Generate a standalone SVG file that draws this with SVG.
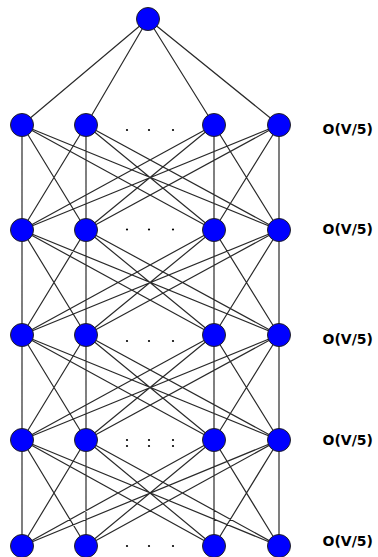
<svg xmlns="http://www.w3.org/2000/svg" width="378" height="557" viewBox="0 0 378 557">
<style>
.e{stroke:#2a2a2a;stroke-width:1.2;fill:none}
.n{fill:#0000ff;stroke:#222;stroke-width:1}
.d{fill:#000}
.l{font-family:"DejaVu Sans",sans-serif;font-weight:bold;font-size:14px;fill:#000}
</style>
<defs><circle id="c" r="11.5"/></defs>
<g id="connectors" class="e">
<path d="M148,19L22,125M148,19L86,125M148,19L214,125M148,19L279,125"/>
<path d="M22,125L22,230M22,125L86,230M22,125L214,230M22,125L279,230M86,125L22,230M86,125L86,230M86,125L214,230M86,125L279,230M214,125L22,230M214,125L86,230M214,125L214,230M214,125L279,230M279,125L22,230M279,125L86,230M279,125L214,230M279,125L279,230"/>
<path d="M22,230L22,335M22,230L86,335M22,230L214,335M22,230L279,335M86,230L22,335M86,230L86,335M86,230L214,335M86,230L279,335M214,230L22,335M214,230L86,335M214,230L214,335M214,230L279,335M279,230L22,335M279,230L86,335M279,230L214,335M279,230L279,335"/>
<path d="M22,335L22,440M22,335L86,440M22,335L214,440M22,335L279,440M86,335L22,440M86,335L86,440M86,335L214,440M86,335L279,440M214,335L22,440M214,335L86,440M214,335L214,440M214,335L279,440M279,335L22,440M279,335L86,440M279,335L214,440M279,335L279,440"/>
<path d="M22,440L22,546M22,440L86,546M22,440L214,546M22,440L279,546M86,440L22,546M86,440L86,546M86,440L214,546M86,440L279,546M214,440L22,546M214,440L86,546M214,440L214,546M214,440L279,546M279,440L22,546M279,440L86,546M279,440L214,546M279,440L279,546"/>
</g>
<g id="top" class="n"><use href="#c" x="148" y="19"/></g>
<g id="row1" class="n"><use href="#c" x="22" y="125"/><use href="#c" x="86" y="125"/><use href="#c" x="214" y="125"/><use href="#c" x="279" y="125"/></g>
<g id="row2" class="n"><use href="#c" x="22" y="230"/><use href="#c" x="86" y="230"/><use href="#c" x="214" y="230"/><use href="#c" x="279" y="230"/></g>
<g id="row3" class="n"><use href="#c" x="22" y="335"/><use href="#c" x="86" y="335"/><use href="#c" x="214" y="335"/><use href="#c" x="279" y="335"/></g>
<g id="row4" class="n"><use href="#c" x="22" y="440"/><use href="#c" x="86" y="440"/><use href="#c" x="214" y="440"/><use href="#c" x="279" y="440"/></g>
<g id="row5" class="n"><use href="#c" x="22" y="546"/><use href="#c" x="86" y="546"/><use href="#c" x="214" y="546"/><use href="#c" x="279" y="546"/></g>
<g id="dots" class="d">
<circle cx="127" cy="130" r="1.1"/><circle cx="149" cy="130" r="1.1"/><circle cx="173" cy="130" r="1.1"/>
<circle cx="127" cy="229.5" r="1.1"/><circle cx="149" cy="229.5" r="1.1"/><circle cx="173" cy="229.5" r="1.1"/>
<circle cx="127" cy="341" r="1.1"/><circle cx="149" cy="341" r="1.1"/><circle cx="173" cy="341" r="1.1"/>
<circle cx="127" cy="440" r="1.1"/><circle cx="149" cy="440" r="1.1"/><circle cx="173" cy="440" r="1.1"/>
<circle cx="127" cy="446" r="1.1"/><circle cx="149" cy="446" r="1.1"/><circle cx="173" cy="446" r="1.1"/>
<circle cx="127" cy="546" r="1.1"/><circle cx="149" cy="546" r="1.1"/><circle cx="173" cy="546" r="1.1"/>
</g>
<g id="labels" class="l">
<text x="322.5" y="133.5">O(V/5)</text>
<text x="322.5" y="233.5">O(V/5)</text>
<text x="322.5" y="343.5">O(V/5)</text>
<text x="322.5" y="444.5">O(V/5)</text>
<text x="322.5" y="546">O(V/5)</text>
</g>
</svg>
